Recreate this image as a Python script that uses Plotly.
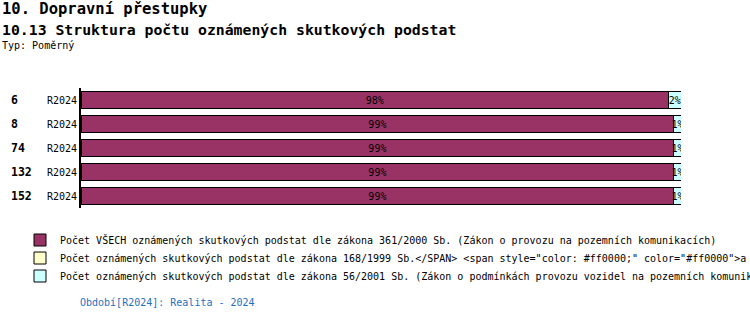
import plotly.graph_objects as go

categories = ["6", "8", "74", "132", "152"]
period_labels = ["R2024", "R2024", "R2024", "R2024", "R2024"]
series_names = [
    "Počet VŠECH oznámených skutkových podstat dle zákona 361/2000 Sb. (Zákon o provozu na pozemních komunikacích)",
    "Počet oznámených skutkových podstat dle zákona 168/1999 Sb.&lt;/SPAN&gt; &lt;span style=\"color: #ff0000;\" color=\"#ff0000\"&gt;a o změně některých souvisejících zákonů&lt;/span&gt;",
    "Počet oznámených skutkových podstat dle zákona 56/2001 Sb. (Zákon o podmínkách provozu vozidel na pozemních komunikacích)",
]
values_361 = [97.9, 98.8, 98.8, 98.8, 98.8]
values_168 = [0.0, 0.0, 0.0, 0.0, 0.0]
values_56 = [2.1, 1.2, 1.2, 1.2, 1.2]
colors = ["#993366", "#FFFFCC", "#CCFFFF"]

MONO = "DejaVu Sans Mono"
W, H = 750, 322
L, R, T, B = 81, 69, 88, 114
PW, PH = W - L - R, H - T - B

def px_x(x):
    return (x - L) / PW

def px_y(y):
    return (H - B - y) / PH

legend_ids = ["legend", "legend2", "legend3"]
legend_rows = [240, 258, 276]

fig = go.Figure()
for name, vals, col, show_text, lg in [
    (series_names[0], values_361, colors[0], True, legend_ids[0]),
    (series_names[1], values_168, colors[1], False, legend_ids[1]),
    (series_names[2], values_56, colors[2], True, legend_ids[2]),
]:
    fig.add_trace(go.Bar(
        x=vals, y=categories, orientation="h", name=name, legend=lg,
        marker=dict(color=col, line=dict(color="black", width=1)),
        texttemplate="%{x:.0f}%" if show_text else None,
        textposition="inside" if show_text else "none",
        insidetextanchor="middle",
        constraintext="none",
        textangle=0,
        textfont=dict(family=MONO, size=10, color="black"),
        hoverinfo="skip",
    ))

annotations = [
    dict(text="<b>10. Dopravní přestupky</b>", x=px_x(0), y=px_y(9), font=dict(size=15.5, family=MONO, color="black")),
    dict(text="<b>10.13 Struktura počtu oznámených skutkových podstat</b>", x=px_x(0), y=px_y(30), font=dict(size=14.8, family=MONO, color="black")),
    dict(text="Typ: Poměrný", x=px_x(0), y=px_y(46), font=dict(size=10, family=MONO, color="black")),
    dict(text="Období[R2024]: Realita - 2024", x=px_x(78), y=px_y(302), font=dict(size=10, family=MONO, color="#1f6fbf")),
]
for a in annotations:
    a.update(xref="paper", yref="paper", xanchor="left", yanchor="middle", showarrow=False)
for i, c in enumerate(categories):
    annotations.append(dict(text=f"<b>{c}</b>", x=px_x(9), y=i, xref="paper", yref="y",
                            xanchor="left", yanchor="middle", showarrow=False,
                            font=dict(size=11.5, family=MONO, color="black")))

legend_style = dict(orientation="v", xanchor="left", yanchor="middle",
                    font=dict(family=MONO, size=10, color="black"), bgcolor="rgba(0,0,0,0)",
                    itemclick=False, itemdoubleclick=False)
legends = {}
for lg, row in zip(legend_ids, legend_rows):
    legends[lg] = dict(legend_style, x=px_x(20), y=px_y(row))

fig.update_layout(
    width=W, height=H,
    margin=dict(l=L, r=R, t=T, b=B, autoexpand=False),
    barmode="stack", bargap=0.33,
    plot_bgcolor="white", paper_bgcolor="white",
    font=dict(family=MONO, size=10, color="black"),
    xaxis=dict(range=[0, 100], visible=False, fixedrange=True),
    yaxis=dict(type="category", range=[len(categories) - 0.5, -0.5], tickmode="array",
               tickvals=categories, ticktext=period_labels,
               showline=True, linecolor="black", linewidth=2, ticks="", showgrid=False,
               tickfont=dict(family=MONO, size=10, color="black"), fixedrange=True),
    showlegend=True,
    annotations=annotations,
    **legends,
)

fig.write_html("out.html")
